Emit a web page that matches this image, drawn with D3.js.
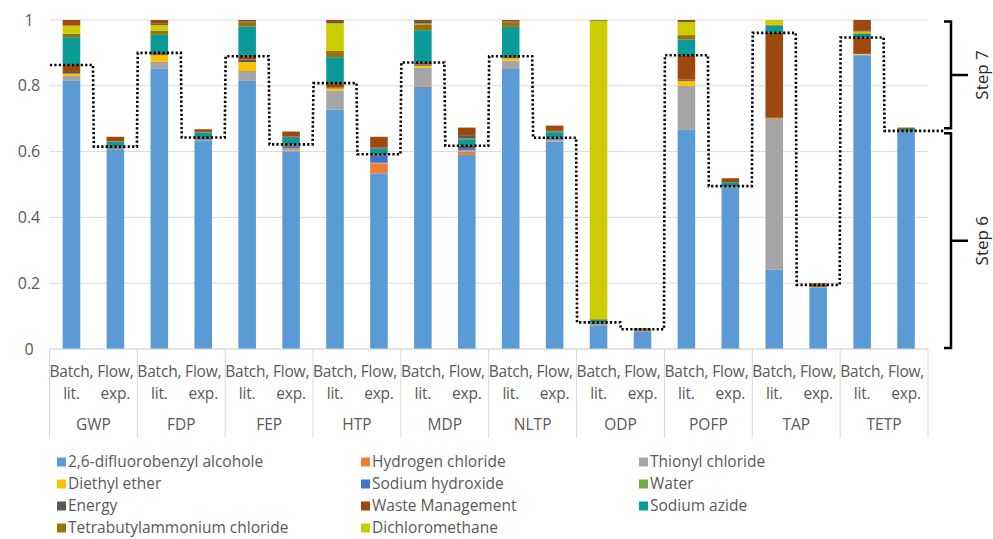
<!DOCTYPE html>
<html>
<head>
<meta charset="utf-8">
<script src="https://cdn.jsdelivr.net/npm/d3@7"></script>
<style>
  body { margin: 0; background: #fff; }
  svg { font-family: "Open Sans", sans-serif; }
</style>
</head>
<body>
<div id="chart"></div>
<script>
// categories
var groups = ["GWP", "FDP", "FEP", "HTP", "MDP", "NLTP", "ODP", "POFP", "TAP", "TETP"];
var routes = [["Batch,", "lit."], ["Flow,", "exp."]];
var yTicks = [0, 0.2, 0.4, 0.6, 0.8, 1];

// values per bar: GWP batch, GWP flow, FDP batch, FDP flow, ...
// step 6 contributions
var alcohol = [0.815, 0.605, 0.853, 0.632, 0.815, 0.600, 0.728, 0.534, 0.797, 0.590, 0.851, 0.630, 0.070, 0.052, 0.666, 0.490, 0.242, 0.186, 0.893, 0.660];
var hcl     = [0, 0, 0, 0, 0, 0.003, 0, 0.030, 0.002, 0.010, 0, 0, 0, 0, 0, 0, 0, 0, 0, 0];
var thionyl = [0.015, 0.003, 0.020, 0.004, 0.030, 0.008, 0.057, 0.002, 0.056, 0.005, 0.025, 0.005, 0.005, 0.002, 0.134, 0.002, 0.457, 0.002, 0.002, 0.001];
var diethyl = [0.007, 0, 0.020, 0, 0.027, 0, 0.007, 0, 0.006, 0, 0.007, 0, 0, 0, 0.015, 0, 0.002, 0, 0.002, 0];
var naoh    = [0, 0.002, 0, 0.002, 0, 0.004, 0, 0.022, 0, 0.006, 0, 0.002, 0, 0, 0, 0, 0, 0, 0, 0];
var water   = [0, 0, 0, 0, 0, 0, 0, 0, 0, 0, 0.001, 0, 0, 0, 0, 0, 0, 0, 0, 0];
var energy6 = [0.005, 0.002, 0.003, 0.003, 0.008, 0.003, 0.003, 0.002, 0.004, 0.003, 0.003, 0.003, 0.003, 0.002, 0.004, 0.002, 0.002, 0.001, 0, 0.001];
var waste6  = [0.021, 0.003, 0.004, 0.002, 0.010, 0.004, 0.013, 0.002, 0.006, 0.004, 0.003, 0.002, 0.003, 0.004, 0.074, 0.001, 0.258, 0.006, 0.050, 0.001];
// step 7 contributions
var azide   = [0.085, 0.015, 0.055, 0.015, 0.090, 0.020, 0.079, 0.017, 0.098, 0.019, 0.089, 0.017, 0.008, 0.001, 0.048, 0.012, 0.022, 0.003, 0.011, 0.006];
var tbac    = [0.010, 0.002, 0.013, 0.002, 0.012, 0, 0.019, 0, 0.018, 0.003, 0.013, 0.002, 0.002, 0, 0.013, 0, 0.002, 0, 0.002, 0];
var dcm     = [0.025, 0, 0.017, 0, 0, 0, 0.084, 0, 0.002, 0, 0, 0, 0.907, 0, 0.040, 0, 0.015, 0, 0.005, 0];
var energy7 = [0, 0, 0.005, 0, 0.004, 0.004, 0.004, 0.003, 0.008, 0.010, 0.004, 0.002, 0.002, 0, 0.003, 0, 0, 0, 0.002, 0];
var waste7  = [0.017, 0.013, 0.010, 0.008, 0.004, 0.015, 0.006, 0.033, 0.003, 0.023, 0.004, 0.016, 0, 0.002, 0.003, 0.012, 0, 0.002, 0.033, 0.004];

var legendNames = ["2,6-difluorobenzyl alcohole", "Hydrogen chloride", "Thionyl chloride",
  "Diethyl ether", "Sodium hydroxide", "Water",
  "Energy", "Waste Management", "Sodium azide",
  "Tetrabutylammonium chloride", "Dichloromethane"];

var colors = {
  "2,6-difluorobenzyl alcohole": "#5B9BD5",
  "Hydrogen chloride": "#ED7D31",
  "Thionyl chloride": "#A5A5A5",
  "Diethyl ether": "#FFC000",
  "Sodium hydroxide": "#4472C4",
  "Water": "#70AD47",
  "Energy": "#595959",
  "Waste Management": "#9E480E",
  "Sodium azide": "#0A9A98",
  "Tetrabutylammonium chloride": "#997300",
  "Dichloromethane": "#CCCC00"
};

// stack layers, bottom to top
var layers = [
  {key: "alcohol", name: "2,6-difluorobenzyl alcohole", values: alcohol, step: 6},
  {key: "hcl", name: "Hydrogen chloride", values: hcl, step: 6},
  {key: "thionyl", name: "Thionyl chloride", values: thionyl, step: 6},
  {key: "diethyl", name: "Diethyl ether", values: diethyl, step: 6},
  {key: "naoh", name: "Sodium hydroxide", values: naoh, step: 6},
  {key: "water", name: "Water", values: water, step: 6},
  {key: "energy6", name: "Energy", values: energy6, step: 6},
  {key: "waste6", name: "Waste Management", values: waste6, step: 6},
  {key: "azide", name: "Sodium azide", values: azide, step: 7},
  {key: "tbac", name: "Tetrabutylammonium chloride", values: tbac, step: 7},
  {key: "dcm", name: "Dichloromethane", values: dcm, step: 7},
  {key: "energy7", name: "Energy", values: energy7, step: 7},
  {key: "waste7", name: "Waste Management", values: waste7, step: 7}
];

var svgWidth = 993;
var svgHeight = 539;
var margin = {top: 20, right: 65, bottom: 190, left: 49.5};
var plotRight = 928;

var svg = d3.select("#chart")
  .append("svg")
  .attr("width", svgWidth)
  .attr("height", svgHeight);

// build table rows, one per bar
var rows = [];
groups.forEach(function(g, gi) {
  routes.forEach(function(r, ri) {
    var i = gi * 2 + ri;
    var row = {group: g, route: r.join(" ")};
    layers.forEach(function(l) { row[l.key] = l.values[i]; });
    rows.push(row);
  });
});

var x0 = d3.scaleBand()
  .domain(groups)
  .range([margin.left, plotRight]);

var x1 = d3.scaleBand()
  .domain(routes.map(function(r) { return r.join(" "); }))
  .range([0, x0.bandwidth()])
  .paddingInner(0.6)
  .paddingOuter(0.3);

var y = d3.scaleLinear()
  .domain([0, 1])
  .range([349, 20]);

// gridlines
svg.append("g")
  .selectAll("line")
  .data(yTicks)
  .enter()
  .append("line")
  .attr("x1", margin.left)
  .attr("x2", plotRight)
  .attr("y1", d => y(d))
  .attr("y2", d => y(d))
  .attr("stroke", "#d9d9d9")
  .attr("stroke-width", 1);

// y axis labels
var leftAxis = d3.axisLeft(y).tickValues(yTicks).tickFormat(d3.format("")).tickSize(0);
var yAxisG = svg.append("g")
  .attr("transform", "translate(29,0)")
  .call(leftAxis);
yAxisG.select(".domain").remove();
yAxisG.selectAll("text")
  .attr("x", 0)
  .attr("text-anchor", "middle")
  .attr("font-size", "16px")
  .attr("font-family", "Open Sans, sans-serif")
  .attr("fill", "#595959");

// stacked bars
var stack = d3.stack().keys(layers.map(l => l.key));
var series = stack(rows);

var barCenter = function(d) {
  return x0(d.group) + x1(d.route) + x1.bandwidth() / 2;
};

svg.append("g")
  .selectAll("g")
  .data(series)
  .enter()
  .append("g")
  .attr("fill", (s, i) => colors[layers[i].name])
  .selectAll("rect")
  .data(s => s)
  .enter()
  .append("rect")
  .attr("x", d => x0(d.data.group) + x1(d.data.route))
  .attr("width", x1.bandwidth())
  .attr("y", d => y(d[1]))
  .attr("height", d => Math.max(0, y(d[0]) - y(d[1])));

// category axis lines
svg.append("line")
  .attr("x1", margin.left).attr("x2", plotRight)
  .attr("y1", y(0)).attr("y2", y(0))
  .attr("stroke", "#d9d9d9");

var bounds = groups.map(g => x0(g)).concat([plotRight]);
svg.append("g")
  .selectAll("line")
  .data(bounds)
  .enter()
  .append("line")
  .attr("x1", d => d).attr("x2", d => d)
  .attr("y1", y(0)).attr("y2", 438)
  .attr("stroke", "#d9d9d9");

// route labels
var labelG = svg.append("g")
  .attr("font-size", "15.5px")
  .attr("fill", "#595959")
  .attr("text-anchor", "middle");

rows.forEach(function(d, i) {
  var r = routes[i % 2];
  var t = labelG.append("text")
    .attr("x", barCenter(d))
    .attr("y", 377)
    .attr("letter-spacing", "-0.2px");
  t.append("tspan").attr("x", barCenter(d)).text(r[0]);
  t.append("tspan").attr("x", barCenter(d)).attr("dy", 22).text(r[1]);
});

labelG.selectAll(".grp")
  .data(groups)
  .enter()
  .append("text")
  .attr("class", "grp")
  .attr("x", d => x0(d) + x0.bandwidth() / 2)
  .attr("y", 430)
  .text(d => d);

// dotted step-6 line
var step6Keys = layers.filter(l => l.step === 6).map(l => l.key);
var pts = [];
rows.forEach(function(d, i) {
  var tot = d3.sum(step6Keys, k => d[k]);
  var cx = barCenter(d);
  pts.push([cx - 21.5, y(tot)]);
  pts.push([i === rows.length - 1 ? 944 : cx + 21.5, y(tot)]);
});
svg.append("path")
  .attr("d", d3.line()(pts))
  .attr("fill", "none")
  .attr("stroke", "#000")
  .attr("stroke-width", 2.6)
  .attr("stroke-dasharray", "2.2,2.2");

// step brackets on the right
var lastStep6 = d3.sum(step6Keys, k => rows[rows.length - 1][k]);
var brackets = [
  {label: "Step 7", top: y(1) + 1.5, bottom: y(lastStep6) - 2.5},
  {label: "Step 6", top: y(lastStep6) + 2.5, bottom: y(0) - 1}
];
var bx = 951;
brackets.forEach(function(b) {
  var mid = (b.top + b.bottom) / 2;
  svg.append("path")
    .attr("d", `M${bx - 7},${b.top} H${bx} V${b.bottom} H${bx - 7} M${bx},${mid} H${bx + 17}`)
    .attr("fill", "none")
    .attr("stroke", "#000")
    .attr("stroke-width", 2.5);
  svg.append("text")
    .attr("transform", `translate(982,${mid}) rotate(-90)`)
    .attr("text-anchor", "middle")
    .attr("dy", "0.35em")
    .attr("font-size", "17px")
    .attr("fill", "#262626")
    .text(b.label);
});

// legend
var legendCols = [57, 361, 639];
var legend = svg.append("g")
  .attr("font-size", "15.5px")
  .attr("fill", "#595959");

legendNames.forEach(function(name, i) {
  var lx = legendCols[i % 3];
  var ly = 462 + Math.floor(i / 3) * 22;
  legend.append("rect")
    .attr("x", lx)
    .attr("y", ly - 4.5)
    .attr("width", 9)
    .attr("height", 9)
    .attr("fill", colors[name]);
  legend.append("text")
    .attr("x", lx + 11)
    .attr("y", ly)
    .attr("dy", "0.35em")
    .text(name);
});
</script>
</body>
</html>
